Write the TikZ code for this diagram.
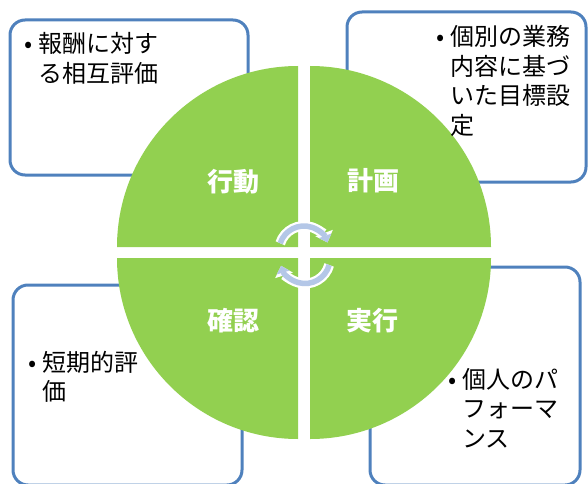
\documentclass[tikz,border=0pt]{standalone}
\usepackage{fontspec}
\newfontfamily\jp{Noto Sans CJK JP}
\usetikzlibrary{arrows.meta}
\definecolor{quadgreen}{HTML}{92D050}
\definecolor{boxblue}{HTML}{4F81BD}
\definecolor{arrowblue}{HTML}{B4C7E7}
\tikzset{
  cornerbox/.style={draw=boxblue, line width=3pt, fill=white, rounded corners=15pt},
  quad/.style={fill=quadgreen, draw=none},
  bodytext/.style={inner sep=0pt, anchor=base west, text=black, font=\jp\fontsize{24}{29.5}\selectfont},
  quadlabel/.style={inner sep=0pt, text=white, font=\jp\bfseries\fontsize{26}{30}\selectfont},
  cyclewhite/.style={draw=white, line width=10pt, -{Triangle[width=18pt,length=10pt]}},
  cycleblue/.style={draw=arrowblue, line width=5.5pt, -{Triangle[width=13pt,length=7pt]}}
}
\newcommand{\bulletline}[2]{\parbox[t]{220pt}{\hangindent=20pt\hangafter=1 \makebox[20pt][c]{•}#1\\#2}}
\begin{document}
\begin{tikzpicture}[x=1pt,y=1pt]
\useasboundingbox (0,0) rectangle (588,483);
\begin{scope}
\clip (0,0) rectangle (588,483);
% corner boxes
\draw[cornerbox] (10,308) rectangle (248,463);
\draw[cornerbox] (347,301) rectangle (586,471);
\draw[cornerbox] (13,-2) rectangle (242,198);
\draw[cornerbox] (370,-2) rectangle (580,216);
% quadrants
\fill[quad] (298,236) -- ++(-181,0) arc[start angle=180, end angle=90, radius=181] -- cycle;
\fill[quad] (310,236) -- ++(0,181) arc[start angle=90, end angle=0, radius=181] -- cycle;
\fill[quad] (298,225) -- ++(-181,0) arc[start angle=180, end angle=270, radius=181] -- cycle;
\fill[quad] (310,225) -- ++(181,0) arc[start angle=0, end angle=-90, radius=181] -- cycle;
% center circular arrows
\coordinate (topc) at (304,232);
\coordinate (botc) at (305,224.5);
\draw[cyclewhite] (topc) ++(162:25) arc[start angle=162, end angle=20, radius=25];
\draw[cycleblue] (topc) ++(162:25) arc[start angle=162, end angle=20, radius=25];
\draw[cyclewhite] (botc) ++(-15:25) arc[start angle=-15, end angle=-163, radius=25];
\draw[cycleblue] (botc) ++(-15:25) arc[start angle=-15, end angle=-163, radius=25];
\end{scope}
% quadrant labels
\node[quadlabel] (act) at (233,301) {行動};
\node[quadlabel] (plan) at (373,302) {計画};
\node[quadlabel] (check) at (233,162) {確認};
\node[quadlabel] (do) at (372,162) {実行};
% box texts
\node[bodytext] (tltext) at (18,430) {\bulletline{報酬に対す}{る相互評価}};
\node[bodytext] (trtext) at (430,437) {\parbox[t]{220pt}{\hangindent=20pt\hangafter=1 \makebox[20pt][c]{•}個別の業務\\内容に基づ\\いた目標設\\定}};
\node[bodytext] (bltext) at (22,112) {\bulletline{短期的評}{価}};
\node[bodytext] (brtext) at (442,95) {\parbox[t]{220pt}{\hangindent=20pt\hangafter=1 \makebox[20pt][c]{•}個人のパ\\フォーマ\\ンス}};
\end{tikzpicture}
\end{document}
